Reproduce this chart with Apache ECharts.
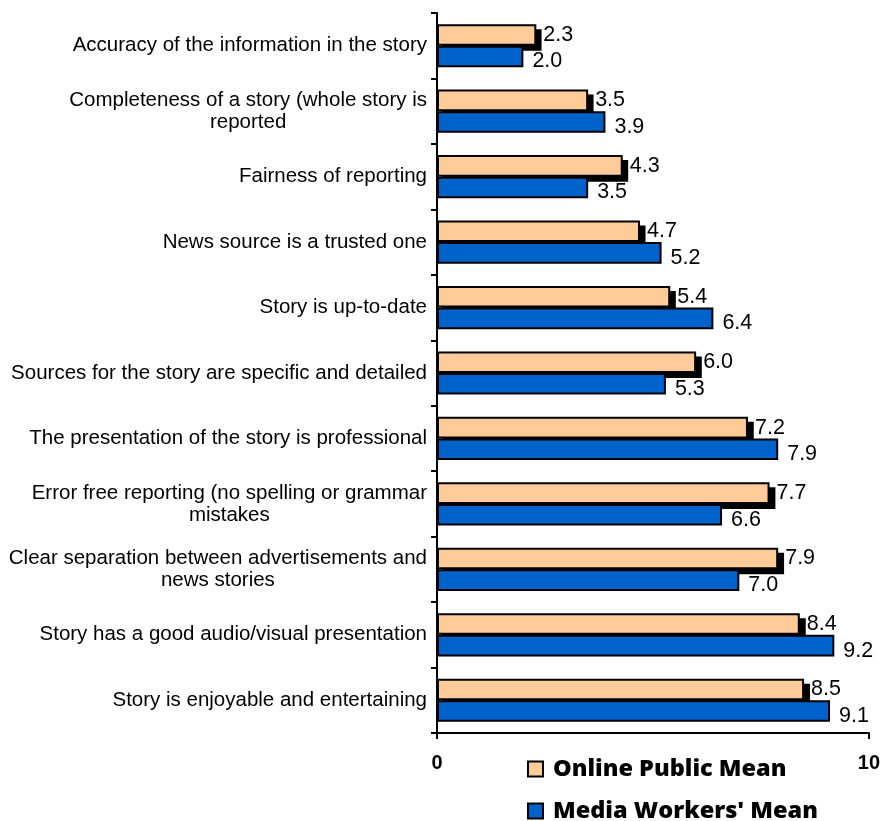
<!DOCTYPE html>
<html>
<head>
<meta charset="utf-8">
<script src="https://cdn.jsdelivr.net/npm/echarts@6/dist/echarts.min.js"></script>
<style>
html,body{margin:0;padding:0;background:#fff;}
#chart{width:883px;height:821px;}
</style>
</head>
<body>
<div id="chart"></div>
<script>
var categories = [
  "Accuracy of the information in the story",
  "Completeness of a story (whole story is\nreported",
  "Fairness of reporting",
  "News source is a trusted one",
  "Story is up-to-date",
  "Sources for the story are specific and detailed",
  "The presentation of the story is professional",
  "Error free reporting (no spelling or grammar\nmistakes",
  "Clear separation between advertisements and\nnews stories",
  "Story has a good audio/visual presentation",
  "Story is enjoyable and entertaining"
];
var onlinePublicMean = [2.3, 3.5, 4.3, 4.7, 5.4, 6.0, 7.2, 7.7, 7.9, 8.4, 8.5];
var mediaWorkersMean = [2.0, 3.9, 3.5, 5.2, 6.4, 5.3, 7.9, 6.6, 7.0, 9.2, 9.1];
var seriesNames = ["Online Public Mean", "Media Workers' Mean"];
var xTicks = [0, 10];

var chart = echarts.init(document.getElementById('chart'));
var fmt = function (v) { return v.toFixed(1); };
var FONT = 'Liberation Sans, Arial';
var legendText = { color: '#000', fontSize: 23.5, fontWeight: 800, fontFamily: 'Open Sans', padding: [0, 0, 0, 5] };
var legendItem = { borderColor: '#000', borderWidth: 2 };
chart.setOption({
  animation: false,
  backgroundColor: '#ffffff',
  grid: [
    { left: 437, right: 13, top: 13, bottom: 88, containLabel: false },
    { left: 442, right: 8, top: 18, bottom: 83, containLabel: false }
  ],
  xAxis: [{
    type: 'value', gridIndex: 0, min: xTicks[0], max: xTicks[1], interval: 10,
    axisLine: { show: true, lineStyle: { color: '#000', width: 2 } },
    axisTick: { show: true, length: 6, lineStyle: { color: '#000', width: 2 } },
    splitLine: { show: false },
    axisLabel: { color: '#000', fontWeight: 'bold', fontSize: 20, fontFamily: FONT, margin: 20 }
  }, {
    type: 'value', gridIndex: 1, min: xTicks[0], max: xTicks[1], show: false, splitLine: { show: false }
  }],
  yAxis: [{
    type: 'category', gridIndex: 0, inverse: true, data: categories, z: 5,
    axisLine: { show: true, lineStyle: { color: '#000', width: 2 } },
    axisTick: { show: true, length: 6, alignWithLabel: false, lineStyle: { color: '#000', width: 2 } },
    axisLabel: {
      color: '#000', fontSize: 20.5, fontFamily: FONT, margin: 10, lineHeight: 22,
      formatter: function (v) {
        return v.split('\n').map(function (l) { return '{c|' + l + '}'; }).join('\n');
      },
      rich: { c: { align: 'center', fontSize: 20.5, lineHeight: 22, color: '#000', fontFamily: FONT } }
    }
  }, {
    type: 'category', gridIndex: 1, inverse: true, data: categories, show: false
  }],
  legend: [{
    left: 527, top: 757, padding: 0, itemWidth: 15, itemHeight: 15, icon: 'rect',
    itemStyle: legendItem, textStyle: legendText, data: [seriesNames[0]]
  }, {
    left: 527, top: 799, padding: 0, itemWidth: 15, itemHeight: 15, icon: 'rect',
    itemStyle: legendItem, textStyle: legendText, data: [seriesNames[1]]
  }],
  series: [
    {
      name: 'shadow', type: 'bar', xAxisIndex: 1, yAxisIndex: 1, data: onlinePublicMean, z: 1,
      barGap: '0%', barCategoryGap: '34%', silent: true,
      itemStyle: { color: '#000', borderColor: '#000', borderWidth: 2 }
    },
    {
      name: 'shadow-slot', type: 'bar', xAxisIndex: 1, yAxisIndex: 1, data: mediaWorkersMean.map(function () { return null; }), z: 1,
      barGap: '0%', barCategoryGap: '34%', silent: true
    },
    {
      name: seriesNames[0], type: 'bar', data: onlinePublicMean, z: 3,
      barGap: '0%', barCategoryGap: '34%',
      itemStyle: { color: '#FFCC99', borderColor: '#000', borderWidth: 2 },
      label: { show: true, position: 'right', distance: 7, color: '#000', fontSize: 21.5, fontFamily: FONT, formatter: function (p) { return fmt(p.value); } }
    },
    {
      name: seriesNames[1], type: 'bar', data: mediaWorkersMean, z: 3,
      barGap: '0%', barCategoryGap: '34%',
      itemStyle: { color: '#0063CC', borderColor: '#000', borderWidth: 2 },
      label: { show: true, position: 'right', distance: 9, offset: [0, 5], color: '#000', fontSize: 21.5, fontFamily: FONT, formatter: function (p) { return fmt(p.value); } }
    }
  ]
});
</script>
</body>
</html>
